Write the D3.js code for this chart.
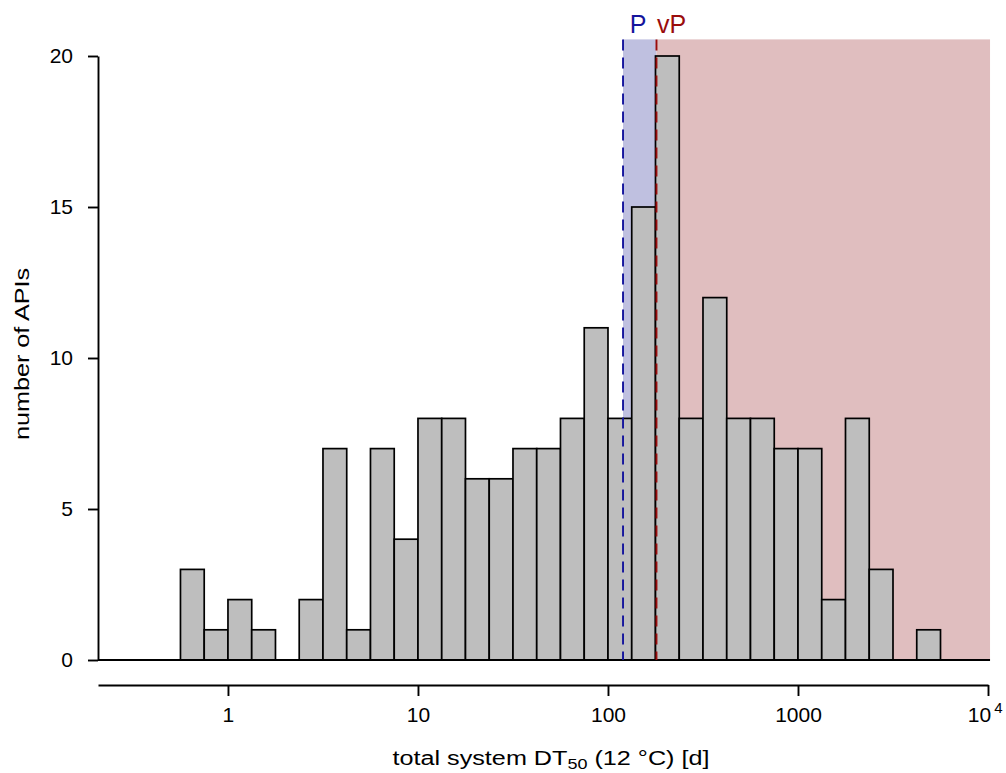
<!DOCTYPE html>
<html>
<head>
<meta charset="utf-8">
<script src="https://cdn.jsdelivr.net/npm/d3@7"></script>
<style>
  body { margin: 0; background: #fff; }
  text { font-family: "Liberation Sans", Arial, sans-serif; }
</style>
</head>
<body>
<div id="chart"></div>
<script>
// histogram bins: lower edge in log10(days), width 1/8 decade
var binLower = [-0.25, -0.125, 0, 0.125, 0.25, 0.375, 0.5, 0.625, 0.75, 0.875,
                1, 1.125, 1.25, 1.375, 1.5, 1.625, 1.75, 1.875, 2, 2.125,
                2.25, 2.375, 2.5, 2.625, 2.75, 2.875, 3, 3.125, 3.25, 3.375,
                3.5, 3.625];
var binWidth = 0.125;
var counts = [3, 1, 2, 1, 0, 2, 7, 1, 7, 4,
              8, 8, 6, 6, 7, 7, 8, 11, 8, 15,
              20, 8, 12, 8, 8, 7, 7, 2, 8, 3,
              0, 1];

var xTicks = [1, 10, 100, 1000, 10000];
var yTicks = [0, 5, 10, 15, 20];

// persistence thresholds (days)
var thrP = 120, thrVP = 180;
var shadeTop = 20.55, shadeMax = 10250;

var W = 1006, H = 773;
var svg = d3.select("#chart").append("svg")
    .attr("width", W)
    .attr("height", H);

var x = d3.scaleLog()
    .domain([Math.pow(10, -0.684), 10000])
    .range([98, 988]);

var y = d3.scaleLinear()
    .domain([0, 20])
    .range([660, 56]);

// shaded P / vP regions
svg.append("rect")
    .attr("x", x(thrP))
    .attr("y", y(shadeTop))
    .attr("width", x(thrVP) - x(thrP))
    .attr("height", y(0) - y(shadeTop))
    .attr("fill", "#bfc0e0");

svg.append("rect")
    .attr("x", x(thrVP))
    .attr("y", y(shadeTop))
    .attr("width", x(shadeMax) - x(thrVP))
    .attr("height", y(0) - y(shadeTop))
    .attr("fill", "#e0bebf");

// bars
var bins = binLower.map(function (b, i) {
    return { lo: Math.pow(10, b), hi: Math.pow(10, b + binWidth), n: counts[i] };
}).filter(function (d) { return d.n > 0; });

svg.selectAll("rect.bar")
    .data(bins)
    .enter().append("rect")
    .attr("class", "bar")
    .attr("x", function (d) { return x(d.lo); })
    .attr("y", function (d) { return y(d.n); })
    .attr("width", function (d) { return x(d.hi) - x(d.lo); })
    .attr("height", function (d) { return y(0) - y(d.n); })
    .attr("fill", "#bebebe")
    .attr("stroke", "#000")
    .attr("stroke-width", 1.7);

// baseline
svg.append("line")
    .attr("x1", x.range()[0]).attr("x2", x(shadeMax))
    .attr("y1", y(0)).attr("y2", y(0))
    .attr("stroke", "#000")
    .attr("stroke-width", 1.9);

// threshold lines + labels
var thr = [
    { v: thrP, label: "P", col: "#14149c" },
    { v: thrVP, label: "vP", col: "#9a0c0c" }
];
svg.selectAll("line.thr")
    .data(thr)
    .enter().append("line")
    .attr("class", "thr")
    .attr("x1", function (d) { return x(d.v); })
    .attr("x2", function (d) { return x(d.v); })
    .attr("y1", y(shadeTop))
    .attr("y2", y(0))
    .attr("stroke", function (d) { return d.col; })
    .attr("stroke-width", 1.9)
    .attr("stroke-dasharray", "11,7");

svg.selectAll("text.thr")
    .data(thr)
    .enter().append("text")
    .attr("class", "thr")
    .attr("x", function (d) { return x(d.v) + 15; })
    .attr("y", 33)
    .attr("text-anchor", "middle")
    .attr("font-size", "25px")
    .attr("fill", function (d) { return d.col; })
    .text(function (d) { return d.label; });

// y axis
var gy = svg.append("g")
    .attr("transform", "translate(98,0)")
    .call(d3.axisLeft(y).tickValues(yTicks).tickSize(10).tickSizeOuter(0).tickPadding(15));
gy.select(".domain").attr("stroke-width", 1.9);
gy.selectAll(".tick line").attr("stroke-width", 1.9);
gy.selectAll(".tick text").attr("font-size", "21px").attr("font-family", null);

// x axis
var gx = svg.append("g")
    .attr("transform", "translate(0,685)")
    .call(d3.axisBottom(x).tickValues(xTicks).tickSize(11).tickSizeOuter(0).tickPadding(11)
        .tickFormat(function (d) { return d === 10000 ? "" : String(d); }));
gx.select(".domain").attr("stroke-width", 1.9);
gx.selectAll(".tick line").attr("stroke-width", 1.9);
gx.selectAll(".tick text").attr("font-size", "21px").attr("font-family", null);
gx.selectAll(".tick text").filter(function (d) { return d === 10000; })
    .attr("text-anchor", "end")
    .attr("x", 14)
    .each(function () {
        var t = d3.select(this);
        t.append("tspan").text("10");
        t.append("tspan").attr("font-size", "15px").attr("dx", 3).attr("dy", "-0.6em").text("4");
    });

// axis titles (reference glyphs are wider than tall, so stretch a bit)
var xt = svg.append("text")
    .attr("transform", "translate(551,765) scale(1.2,1)")
    .attr("text-anchor", "middle")
    .attr("font-size", "21px");
xt.append("tspan").text("total system DT");
xt.append("tspan").attr("font-size", "15px").attr("dy", 4).text("50");
xt.append("tspan").attr("dy", -4).text(" (12 °C) [d]");

svg.append("text")
    .attr("transform", "translate(29,354) rotate(-90) scale(1.2,1)")
    .attr("text-anchor", "middle")
    .attr("font-size", "21px")
    .text("number of APIs");
</script>
</body>
</html>
